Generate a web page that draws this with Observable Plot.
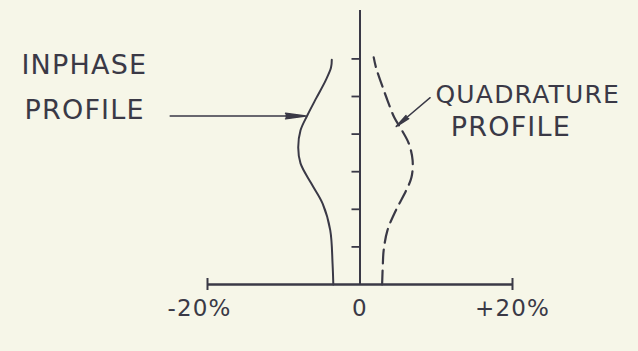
<!DOCTYPE html>
<html>
<head>
<meta charset="utf-8">
<script src="https://cdn.jsdelivr.net/npm/d3@7"></script>
<script src="https://cdn.jsdelivr.net/npm/@observablehq/plot@0.6"></script>
<style>
  html, body { margin: 0; padding: 0; background: #f6f6e8; }
  #chart svg text { letter-spacing: 1.2px; }
</style>
</head>
<body>
<div id="chart"></div>
<script>
// Depth positions (tick units, 0 = baseline) and profile values in percent
const inphaseDepth = [0, 0.56, 1.44, 2.15, 2.69, 3.22, 3.64, 4.1, 4.5, 4.97, 5.43, 5.77, 5.98];
const inphaseValue = [-3.5, -3.6, -3.9, -4.9, -6.4, -7.8, -8.1, -7.8, -6.9, -5.7, -4.5, -3.8, -3.7];

const quadDepth = [0, 0.56, 0.9, 1.44, 1.97, 2.5, 2.85, 3.3, 3.75, 4.1, 4.44, 4.9, 5.35, 5.77, 6.04];
const quadValue = [2.9, 3.0, 3.1, 3.6, 4.7, 6.05, 6.75, 6.9, 6.4, 5.5, 4.5, 3.6, 2.8, 2.1, 1.8];

// Axes
const xTicks = [-20, 0, 20];
const xTickLabels = ["-20%", "0", "+20%"];
const xEndTicks = [-20, 20];
const yTicks = [1, 2, 3, 4, 5, 6];
const yAxisTop = 7.29;

// Annotation labels
const labelText = ["INPHASE", "PROFILE", "QUADRATURE", "PROFILE"];
const labelX = [-44.4, -44.0, 9.9, 11.9];
const labelY = [5.82, 4.63, 5.05, 4.18];

// Leader arrows
const arrowX1 = [-24.9, 9.2];
const arrowY1 = [4.48, 4.97];
const arrowX2 = [-7.1, 4.74];
const arrowY2 = [4.48, 4.2];

const ink = "#3a3946";
const inphase = inphaseDepth.map((d, i) => ({depth: d, value: inphaseValue[i]}));
const quad = quadDepth.map((d, i) => ({depth: d, value: quadValue[i]}));
const labels = labelText.map((t, i) => ({text: t, x: labelX[i], y: labelY[i]}));
const arrows = arrowX1.map((x1, i) => ({x1, y1: arrowY1[i], x2: arrowX2[i], y2: arrowY2[i]}));
const tickLabels = xTicks.map((x, i) => ({x, label: xTickLabels[i]}));

const chart = Plot.plot({
  width: 638,
  height: 351,
  margin: 0,
  style: {background: "#f6f6e8", color: ink, fontFamily: "DejaVu Sans"},
  x: {domain: [-20, 20], range: [207, 512], axis: null},
  y: {domain: [0, 6], range: [284, 58.4], axis: null},
  marks: [
    // horizontal axis
    Plot.ruleY([0], {x1: -20, x2: 20, stroke: ink, strokeWidth: 2.4}),
    Plot.ruleX(xEndTicks, {y1: 0, y2: 0, insetTop: -6, insetBottom: -6, stroke: ink, strokeWidth: 2}),
    // vertical axis
    Plot.ruleX([0], {y1: 0, y2: yAxisTop, stroke: ink, strokeWidth: 2}),
    Plot.ruleY(yTicks, {x1: 0, x2: 0, insetLeft: -8, stroke: ink, strokeWidth: 1.8}),
    // tick labels
    Plot.text(tickLabels.filter((d) => d.x !== -20), {x: "x", y: 0, text: "label", dy: 24, fontSize: 23, fill: ink}),
    Plot.text(tickLabels.filter((d) => d.x === -20), {x: "x", y: 0, text: "label", dy: 24, dx: -8, fontSize: 23, fill: ink}),
    // profiles
    Plot.line(inphase, {x: "value", y: "depth", curve: "catmull-rom", stroke: ink, strokeWidth: 2}),
    Plot.line(quad, {x: "value", y: "depth", curve: "catmull-rom", stroke: ink, strokeWidth: 2.2,
      strokeDasharray: "14,7"}),
    // leader arrows
    Plot.arrow(arrows, {x1: "x1", y1: "y1", x2: "x2", y2: "y2", stroke: ink, fill: ink, strokeWidth: 1.4,
      headAngle: 16, headLength: 22}),
    // labels
    Plot.text(labels.slice(0, 2), {x: "x", y: "y", text: "text", textAnchor: "start", fontSize: 27, fill: ink}),
    Plot.text(labels.slice(2, 3), {x: "x", y: "y", text: "text", textAnchor: "start", fontSize: 25, fill: ink}),
    Plot.text(labels.slice(3), {x: "x", y: "y", text: "text", textAnchor: "start", fontSize: 27, fill: ink})
  ]
});
document.getElementById("chart").appendChild(chart);
</script>
</body>
</html>
